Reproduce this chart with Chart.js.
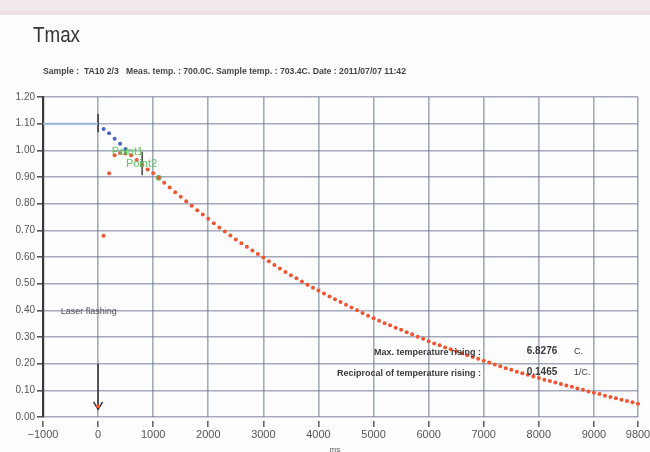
<!DOCTYPE html>
<html>
<head>
<meta charset="utf-8">
<script src="https://cdn.jsdelivr.net/npm/chart.js@4/dist/chart.umd.min.js"></script>
<style>
  html, body { margin: 0; padding: 0; background: #fff; }
  canvas { display: block; }
</style>
</head>
<body>
<canvas id="tmaxChart" width="650" height="452"></canvas>
<script>
// Measured temperature rise (normalised) every 100 ms
const timeMs = [0, 100, 200, 300, 400, 500, 600, 700, 800, 900,
  1000, 1100, 1200, 1300, 1400, 1500, 1600, 1700, 1800, 1900,
  2000, 2100, 2200, 2300, 2400, 2500, 2600, 2700, 2800, 2900,
  3000, 3100, 3200, 3300, 3400, 3500, 3600, 3700, 3800, 3900,
  4000, 4100, 4200, 4300, 4400, 4500, 4600, 4700, 4800, 4900,
  5000, 5100, 5200, 5300, 5400, 5500, 5600, 5700, 5800, 5900,
  6000, 6100, 6200, 6300, 6400, 6500, 6600, 6700, 6800, 6900,
  7000, 7100, 7200, 7300, 7400, 7500, 7600, 7700, 7800, 7900,
  8000, 8100, 8200, 8300, 8400, 8500, 8600, 8700, 8800, 8900,
  9000, 9100, 9200, 9300, 9400, 9500, 9600, 9700, 9800];
const riseValues = [0.040, 0.680, 0.914, 0.982, 0.990, 0.988, 0.982, 0.964, 0.945, 0.928,
  0.914, 0.897, 0.878, 0.861, 0.843, 0.826, 0.809, 0.792, 0.775, 0.759,
  0.743, 0.727, 0.711, 0.696, 0.681, 0.666, 0.652, 0.638, 0.624, 0.611,
  0.598, 0.584, 0.570, 0.557, 0.544, 0.532, 0.520, 0.508, 0.496, 0.485,
  0.474, 0.463, 0.452, 0.442, 0.431, 0.421, 0.411, 0.400, 0.390, 0.380,
  0.370, 0.361, 0.352, 0.344, 0.335, 0.327, 0.318, 0.310, 0.301, 0.293,
  0.284, 0.276, 0.269, 0.261, 0.254, 0.247, 0.239, 0.232, 0.225, 0.218,
  0.211, 0.204, 0.197, 0.190, 0.183, 0.177, 0.170, 0.164, 0.158, 0.152,
  0.146, 0.140, 0.135, 0.129, 0.124, 0.118, 0.113, 0.107, 0.102, 0.096,
  0.091, 0.086, 0.080, 0.075, 0.070, 0.065, 0.060, 0.055, 0.050];

// Back-extrapolation from the fit points
const fitX = [100, 200, 300, 400, 500];
const fitY = [1.080, 1.064, 1.043, 1.025, 1.005];
const baselineX = [-1000, 0];
const baselineY = [1.10, 1.10];

// Cursor marks and the Point2 marker
const cursor1X = [0, 0];
const cursor1Y = [1.068, 1.136];
const cursor2X = [800, 800];
const cursor2Y = [0.907, 0.995];
const point2X = [1100];
const point2Y = [0.897];

// Laser flashing arrow
const arrowX = [0, 0];
const arrowY = [0.20, 0.029];
const arrowHeadX = [-82, 0, 82];
const arrowHeadY = [0.057, 0.029, 0.057];

const xTicks = [-1000, 0, 1000, 2000, 3000, 4000, 5000, 6000, 7000, 8000, 9000, 9800];

const titleText = 'Tmax';
const subtitleText = 'Sample :  TA10 2/3   Meas. temp. : 700.0C. Sample temp. : 703.4C. Date : 2011/07/07 11:42';
const maxRiseLabel = 'Max. temperature rising :';
const maxRiseValue = '6.8276';
const maxRiseUnit = 'C.';
const recipLabel = 'Reciprocal of temperature rising :';
const recipValue = '0.1465';
const recipUnit = '1/C.';

const FONT = '"Liberation Sans", Arial, sans-serif';

function pts(xs, ys) {
    return xs.map((x, i) => ({ x: x, y: ys[i] }));
}

function lineSet(xs, ys, color, width) {
    return {
        data: pts(xs, ys),
        showLine: true,
        borderColor: color,
        borderWidth: width,
        pointRadius: 0,
        clip: false
    };
}

// Page background, titles and text annotations
const decorPlugin = {
    id: 'decor',
    beforeDraw(chart) {
        const ctx = chart.ctx;
        ctx.save();
        ctx.fillStyle = '#fdfdfd';
        ctx.fillRect(0, 0, chart.width, chart.height);
        ctx.fillStyle = '#f4e9ee';
        ctx.fillRect(0, 0, chart.width, 11);
        ctx.fillStyle = '#f1dfe6';
        ctx.fillRect(0, 11, chart.width, 4);
        ctx.restore();
    },
    afterDraw(chart) {
        const ctx = chart.ctx;
        const xs = chart.scales.x;
        const ys = chart.scales.y;
        ctx.save();
        ctx.textBaseline = 'middle';

        ctx.fillStyle = '#333';
        ctx.font = '22px ' + FONT;
        ctx.fillText(titleText, 33, 36, 47);

        ctx.font = 'bold 9px ' + FONT;
        ctx.fillStyle = '#444';
        ctx.fillText(subtitleText, 43, 72, 363);

        // result readout
        ctx.font = 'bold 9px ' + FONT;
        ctx.fillStyle = '#3a3a3a';
        ctx.textAlign = 'right';
        ctx.fillText(maxRiseLabel, xs.getPixelForValue(6950), ys.getPixelForValue(0.243), 113);
        ctx.fillText(recipLabel, xs.getPixelForValue(6950), ys.getPixelForValue(0.163), 154);
        ctx.textAlign = 'left';
        ctx.font = 'bold 10px ' + FONT;
        ctx.fillText(maxRiseValue, xs.getPixelForValue(7780), ys.getPixelForValue(0.247), 33);
        ctx.fillText(recipValue, xs.getPixelForValue(7780), ys.getPixelForValue(0.167), 33);
        ctx.font = '9px ' + FONT;
        ctx.fillText(maxRiseUnit, xs.getPixelForValue(8640), ys.getPixelForValue(0.245));
        ctx.fillText(recipUnit, xs.getPixelForValue(8640), ys.getPixelForValue(0.165));

        ctx.font = '9px ' + FONT;
        ctx.fillStyle = '#555';
        ctx.fillText('Laser flashing', xs.getPixelForValue(-680), ys.getPixelForValue(0.395), 68);

        ctx.fillStyle = '#62c262';
        ctx.font = '11px ' + FONT;
        ctx.fillText('Point1', xs.getPixelForValue(250), ys.getPixelForValue(0.995));
        ctx.fillText('Point2', xs.getPixelForValue(505), ys.getPixelForValue(0.948));

        ctx.fillStyle = '#555';
        ctx.font = '8px ' + FONT;
        ctx.fillText('ms', xs.getPixelForValue(4200), 450);
        ctx.restore();
    }
};

const gridColor = 'rgba(110,120,148,0.62)';

new Chart(document.getElementById('tmaxChart'), {
    type: 'scatter',
    data: {
        datasets: [
            lineSet(baselineX, baselineY, '#8fb6de', 1.6),
            {
                data: pts(timeMs, riseValues),
                backgroundColor: '#ef5433',
                borderWidth: 0,
                pointRadius: 2,
                clip: false
            },
            {
                data: pts(fitX, fitY),
                backgroundColor: '#4a62c0',
                borderWidth: 0,
                pointRadius: 2
            },
            {
                data: pts(point2X, point2Y),
                backgroundColor: '#7cc87c',
                borderColor: '#5cb85c',
                borderWidth: 1,
                pointRadius: 2.5
            },
            lineSet(cursor1X, cursor1Y, '#333', 1.5),
            lineSet(cursor2X, cursor2Y, '#444', 1.5),
            lineSet(arrowX, arrowY, '#333', 1.5),
            lineSet(arrowHeadX, arrowHeadY, '#333', 1.5)
        ]
    },
    options: {
        responsive: false,
        animation: false,
        events: [],
        layout: { padding: { top: 97, right: 12, left: 0, bottom: 0 } },
        plugins: {
            legend: { display: false },
            tooltip: { enabled: false }
        },
        scales: {
            x: {
                type: 'linear',
                min: -1000,
                max: 9800,
                afterBuildTicks: s => { s.ticks = xTicks.map(v => ({ value: v })); },
                afterFit: s => { s.height = 35; s.paddingLeft = 0; s.paddingRight = 0; },
                grid: {
                    color: gridColor,
                    lineWidth: 1.6,
                    tickColor: '#666',
                    tickLength: 10,
                    tickBorderDash: [0, 4, 6, 4]
                },
                border: { display: false },
                ticks: {
                    padding: 1,
                    maxRotation: 0,
                    autoSkip: false,
                    color: '#555',
                    font: { family: FONT, size: 11 },
                    callback: v => (v < 0 ? '\u2212' + Math.abs(v) : String(v))
                }
            },
            y: {
                min: 0,
                max: 1.2,
                afterFit: s => { s.width = 43; },
                grid: {
                    color: gridColor,
                    lineWidth: 1.6,
                    tickColor: '#555',
                    tickLength: 6
                },
                border: { display: true, color: '#3a3a3a', width: 2.2 },
                ticks: {
                    stepSize: 0.1,
                    padding: 2,
                    color: '#555',
                    font: { family: FONT, size: 10 },
                    callback: v => v.toFixed(2)
                }
            }
        }
    },
    plugins: [decorPlugin]
});
</script>
</body>
</html>
